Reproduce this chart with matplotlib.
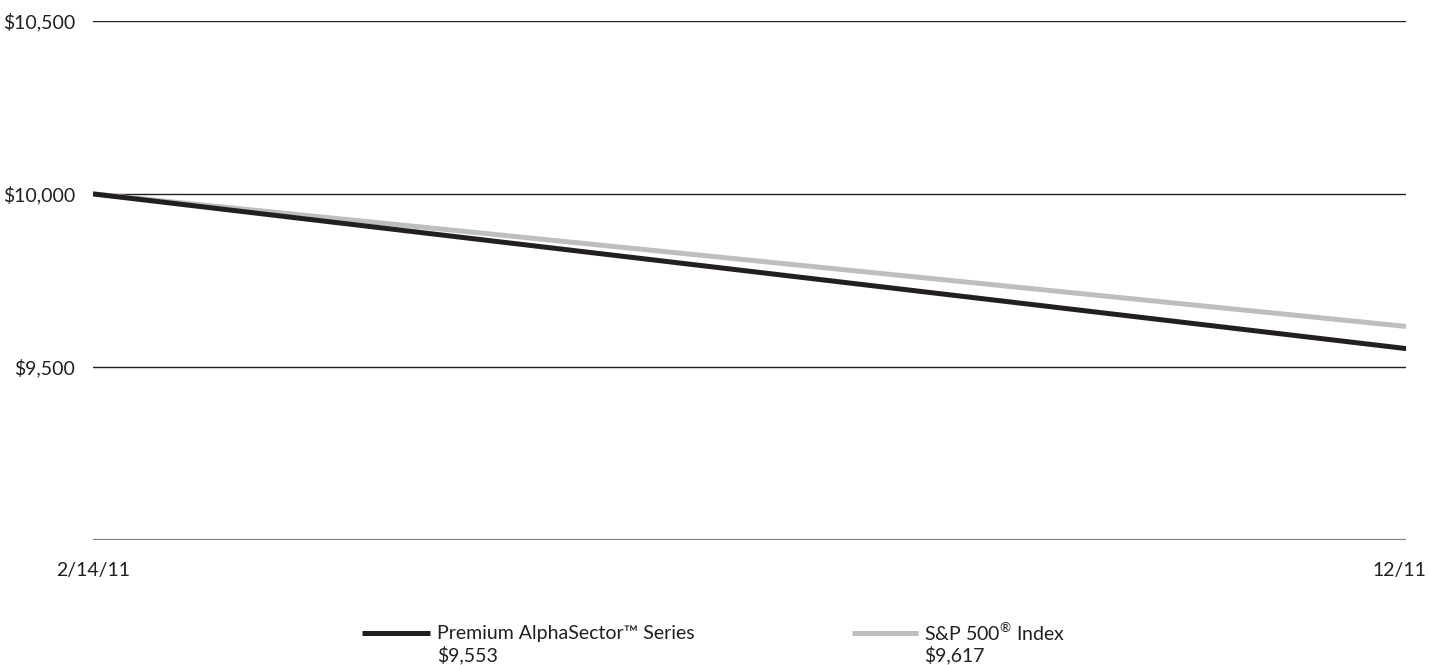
import matplotlib.pyplot as plt
from matplotlib.transforms import ScaledTranslation

dates = ["2/14/11", "12/11"]
fund_values = [10000, 9553]
index_values = [10000, 9617]
fund_name = "Premium AlphaSector\u2122 Series"
index_name = "S&P 500$^{\\mathrm{\u00ae}}$ Index"
y_ticks = [9500, 10000, 10500]

plt.rcParams['font.family'] = ['Lato', 'DejaVu Sans']
plt.rcParams['mathtext.fontset'] = 'custom'
plt.rcParams['mathtext.rm'] = 'Lato'

TEXT = "#231f20"
FS = 14

fig = plt.figure(figsize=(14.29, 6.65), dpi=100)
ax = fig.add_axes([0.0651, 0.188, 0.919, 0.7806])

x = list(range(len(dates)))
ax.plot(x, index_values, color="#bcbec0", lw=3.6, solid_capstyle="butt", zorder=3)
ax.plot(x, fund_values, color=TEXT, lw=3.6, solid_capstyle="butt", zorder=4)

ax.set_xlim(0, 1)
ax.set_ylim(9000, 10500)
for yv in y_ticks:
    ax.axhline(yv, color=TEXT, lw=1.0, zorder=1)
ax.axhline(9000, color="#808080", lw=1.6, zorder=1)

ax.set_yticks(y_ticks)
ax.set_yticklabels([f"${v:,}" for v in y_ticks], fontsize=FS, color=TEXT)
ax.set_xticks(x)
ax.set_xticklabels(dates, fontsize=FS, color=TEXT)
ax.tick_params(axis="y", length=0, pad=13)
ax.tick_params(axis="x", length=0, pad=16)
for s in ax.spines.values():
    s.set_visible(False)

# keep the last date label inside the figure
last = ax.get_xticklabels()[-1]
last.set_ha("right")
last.set_transform(last.get_transform() + ScaledTranslation(20 / 100, 0, fig.dpi_scale_trans))

# legend drawn in figure coordinates
def legend_item(x0, x1, xt, color, name, value):
    y_line = 1 - 633 / 665
    fig.add_artist(plt.Line2D([x0 / 1429, x1 / 1429], [y_line, y_line],
                              color=color, lw=3.6, solid_capstyle="butt"))
    fig.text(xt / 1429, y_line, name, fontsize=FS, color=TEXT, va="center")
    fig.text(xt / 1429, 1 - 655 / 665, f"${value:,}", fontsize=FS, color=TEXT, va="center")

legend_item(362, 430, 437, TEXT, fund_name, fund_values[-1])
legend_item(852, 918, 924, "#bcbec0", index_name, index_values[-1])

fig.savefig("out.png", dpi=100)
